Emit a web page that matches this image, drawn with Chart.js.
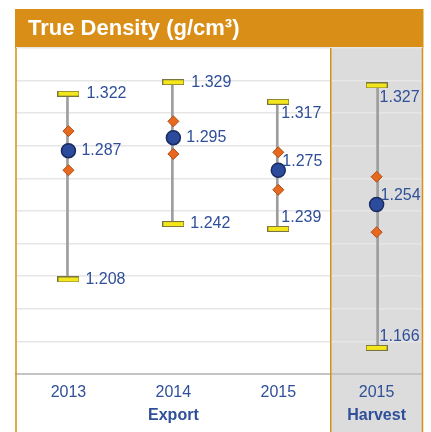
<!DOCTYPE html>
<html>
<head>
<meta charset="utf-8">
<script src="https://cdn.jsdelivr.net/npm/chart.js@4/dist/chart.umd.min.js"></script>
<style>
  html, body { margin: 0; padding: 0; background: #fff; }
  canvas { display: block; }
</style>
</head>
<body>
<canvas id="densityChart" width="431" height="432"></canvas>
<script>
var chartTitle = "True Density (g/cm³)";
var years = ["2013", "2014", "2015", "2015"];
var groups = ["Export", "Export", "Export", "Harvest"];
var maxVals = [1.322, 1.329, 1.317, 1.327];
var upperVals = [1.299, 1.305, 1.286, 1.271];
var meanVals = [1.287, 1.295, 1.275, 1.254];
var lowerVals = [1.275, 1.285, 1.263, 1.237];
var minVals = [1.208, 1.242, 1.239, 1.166];
var yMin = 1.15;
var yMax = 1.35;
var yStep = 0.02;

var blue = "#2f4f98";
var orange = "#d98f17";
var font = "'Liberation Sans', Arial, sans-serif";

// one x axis per panel, stacked side by side
var panels = [
  { name: "Export", axis: "x", weight: 3.43 },
  { name: "Harvest", axis: "x2", weight: 1 }
];
panels.forEach(function (p) {
  p.idx = [];
  groups.forEach(function (g, i) {
    if (g === p.name) p.idx.push(i);
  });
});

function pick(arr, idx) {
  return idx.map(function (i) { return arr[i]; });
}

// yellow min / max bar marker
var cap = document.createElement("canvas");
cap.width = 22;
cap.height = 6;
var cctx = cap.getContext("2d");
cctx.fillStyle = "#f3e71b";
cctx.fillRect(0.5, 0.5, 21, 5);
cctx.strokeStyle = "#7a743e";
cctx.lineWidth = 1;
cctx.strokeRect(0.5, 0.5, 21, 5);

var datasets = [];
panels.forEach(function (p) {
  var mins = pick(minVals, p.idx);
  var maxs = pick(maxVals, p.idx);
  datasets.push({
    type: "bar", xAxisID: p.axis, order: 3,
    data: mins.map(function (v, k) { return [v, maxs[k]]; }),
    backgroundColor: "#9d9d9d", barThickness: 2, borderWidth: 0
  });
  [maxs, mins].forEach(function (vals) {
    datasets.push({
      type: "line", xAxisID: p.axis, order: 2, data: vals,
      showLine: false, pointStyle: cap, pointRadius: 6
    });
  });
  [pick(upperVals, p.idx), pick(lowerVals, p.idx)].forEach(function (vals) {
    datasets.push({
      type: "line", xAxisID: p.axis, order: 1, data: vals,
      showLine: false, pointStyle: "rectRot", pointRadius: 5.5,
      backgroundColor: "#e6691f", borderColor: "#b04c12", borderWidth: 1
    });
  });
  datasets.push({
    type: "line", xAxisID: p.axis, order: 0, data: pick(meanVals, p.idx),
    showLine: false, pointStyle: "circle", pointRadius: 7,
    backgroundColor: "#2c4b9d", borderColor: "#1a2b5e", borderWidth: 1.5
  });
});

function xScale(p) {
  return {
    type: "category",
    labels: pick(years, p.idx),
    position: "bottom",
    stack: "panels",
    stackWeight: p.weight,
    offset: true,
    grid: { display: false, drawTicks: false },
    border: { display: true, color: "#c4c4c4", width: 2 },
    ticks: { color: blue, font: { family: font, size: 16 }, padding: 9, maxRotation: 0, autoSkip: false },
    title: {
      display: true, text: p.name, color: blue,
      font: { family: font, size: 16, weight: "bold" },
      padding: { top: 3, bottom: 7 }
    },
    afterFit: function (scale) {
      scale.height = 58;
      scale.paddingLeft = 0;
      scale.paddingRight = 0;
    }
  };
}

var framePlugin = {
  id: "frame",
  beforeDraw: function (chart) {
    var ctx = chart.ctx;
    var a = chart.chartArea;
    var x2 = chart.scales.x2;
    ctx.save();
    ctx.fillStyle = "#fff";
    ctx.fillRect(0, 0, chart.width, chart.height);
    ctx.fillStyle = "#dcdcdc";
    ctx.fillRect(x2.left, a.top, x2.right - x2.left, chart.height - a.top);
    ctx.fillStyle = orange;
    ctx.fillRect(a.left - 1, 9, a.right - a.left + 2, a.top - 9);
    ctx.fillStyle = "#fff";
    ctx.font = "bold 22px " + font;
    ctx.textAlign = "left";
    ctx.textBaseline = "alphabetic";
    ctx.fillText(chartTitle, a.left + 12, 34.5);
    ctx.restore();
  },
  afterDraw: function (chart) {
    var ctx = chart.ctx;
    var a = chart.chartArea;
    ctx.save();
    ctx.strokeStyle = orange;
    ctx.lineWidth = 1.5;
    [a.left, chart.scales.x2.left, a.right].forEach(function (x) {
      ctx.beginPath();
      ctx.moveTo(x, a.top);
      ctx.lineTo(x, chart.height);
      ctx.stroke();
    });
    ctx.restore();
  }
};

var labelPlugin = {
  id: "valueLabels",
  afterDatasetsDraw: function (chart) {
    var ctx = chart.ctx;
    var y = chart.scales.y;
    ctx.save();
    ctx.fillStyle = blue;
    ctx.font = "16px " + font;
    ctx.textAlign = "left";
    ctx.textBaseline = "middle";
    panels.forEach(function (p) {
      var xs = chart.scales[p.axis];
      p.idx.forEach(function (i, k) {
        var x = xs.getPixelForValue(k);
        var tucked = k === p.idx.length - 1;
        var items = tucked
          ? [[maxVals[i], 3, 12], [meanVals[i], 4, -9], [minVals[i], 3, -11]]
          : [[maxVals[i], 18, 0], [meanVals[i], 13, 0], [minVals[i], 17, 0]];
        items.forEach(function (it) {
          ctx.fillText(it[0].toFixed(3), x + it[1], y.getPixelForValue(it[0]) + it[2]);
        });
      });
    });
    ctx.restore();
  }
};

var ctx = document.getElementById("densityChart").getContext("2d");
var myChart = new Chart(ctx, {
  type: "bar",
  data: { datasets: datasets },
  options: {
    responsive: false,
    animation: false,
    layout: { padding: { top: 48, left: 16, right: 3, bottom: 0 } },
    plugins: { legend: { display: false }, tooltip: { enabled: false } },
    scales: {
      x: xScale(panels[0]),
      x2: xScale(panels[1]),
      y: {
        type: "linear",
        min: yMin,
        max: yMax,
        ticks: { stepSize: yStep, display: false },
        grid: { color: "#e6e6e6", lineWidth: 1.5, drawTicks: false },
        border: { display: false }
      }
    }
  },
  plugins: [framePlugin, labelPlugin]
});
</script>
</body>
</html>
